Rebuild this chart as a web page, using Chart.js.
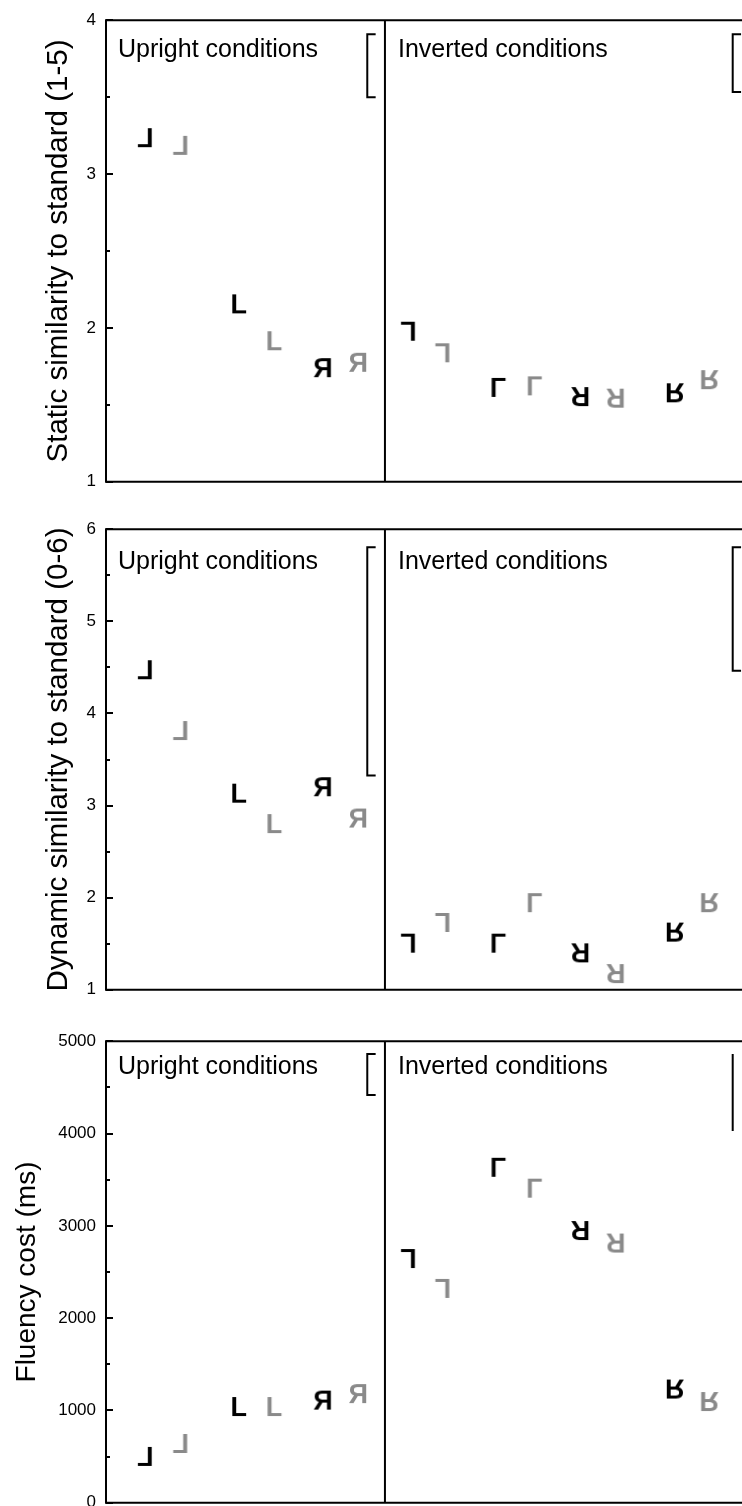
<!DOCTYPE html>
<html>
<head>
<meta charset="utf-8">
<script src="https://cdn.jsdelivr.net/npm/chart.js@4.4.0/dist/chart.umd.min.js"></script>
<style>
  html, body { margin: 0; padding: 0; background: #fff; overflow: hidden; width: 742px; height: 1506px; }
  canvas { position: absolute; left: 0; }
</style>
</head>
<body>
<canvas id="c1"></canvas>
<canvas id="c2"></canvas>
<canvas id="c3"></canvas>
<script>
/* ===== Letter-orientation similarity panels ===== */

// condition positions on the x axis (upright half 0-3, inverted half 3-6.84)
const xBlack = [0.42, 1.43, 2.33, 3.25, 4.22, 5.10, 6.12];
const xGray  = [0.80, 1.81, 2.71, 3.62, 4.61, 5.48, 6.49];

// which glyph marks each condition
const glyphLetter = ['L', 'L', 'R', 'L', 'L', 'R', 'R'];
const glyphMirror = [true, false, true, false, true, false, true];
const glyphTurn   = [0, 0, 0, 180, 180, 180, 180];

// panel values
const staticBlack  = [3.24, 2.16, 1.745, 1.975, 1.61, 1.55, 1.575];
const staticGray   = [3.19, 1.92, 1.78, 1.835, 1.62, 1.54, 1.66];
const dynamicBlack = [4.48, 3.14, 3.21, 1.50, 1.50, 1.395, 1.62];
const dynamicGray  = [3.82, 2.81, 2.87, 1.725, 1.94, 1.17, 1.94];
const fluencyBlack = [508, 1048, 1118, 2640, 3628, 2943, 1226];
const fluencyGray  = [648, 1048, 1188, 2316, 3402, 2808, 1091];

// error-bar brackets: [upright, inverted]
const errX      = [2.81, 6.74];
const errTop    = [[3.909, 3.909], [5.805, 5.805], [4860, 4860]];
const errBottom = [[3.50, 3.533], [3.327, 4.463], [4417, 4028]];
const errCaps   = [[true, true], [true, true], [true, false]];

const halfLabels = ['Upright conditions', 'Inverted conditions'];
const labelY = [3.76, 5.57, 4640];

const yTitles = ['Static similarity to standard (1-5)', 'Dynamic similarity to standard (0-6)', 'Fluency cost (ms)'];
const yMin  = [1, 1, 0];
const yMax  = [4, 6, 5000];
const yStep = [1, 1, 1000];

const FONT = '"Liberation Sans", Arial, sans-serif';
const GRAY = '#8a8a8a';

// page geometry of each panel's plot box
const plotTop    = [19, 528, 1040];
const plotBottom = [482, 990, 1503];
const titleX     = [67, 67, 35];

function glyph(letter, mirror, color) {
  const c = document.createElement('canvas');
  c.width = 30; c.height = 30;
  const g = c.getContext('2d');
  g.font = 'bold 27px ' + FONT;
  const m = g.measureText(letter);
  const w = m.actualBoundingBoxLeft + m.actualBoundingBoxRight;
  const h = m.actualBoundingBoxAscent + m.actualBoundingBoxDescent;
  g.fillStyle = color;
  if (mirror) { g.translate(30, 0); g.scale(-1, 1); }
  g.fillText(letter, (30 - w) / 2 + m.actualBoundingBoxLeft, (30 - h) / 2 + m.actualBoundingBoxAscent);
  return c;
}

const blackGlyphs = glyphLetter.map((l, i) => glyph(l, glyphMirror[i], '#000'));
const grayGlyphs  = glyphLetter.map((l, i) => glyph(l, glyphMirror[i], GRAY));

// frame, inward ticks, half labels and y title
const framePlugin = {
  id: 'frame',
  afterDraw(chart, args, opts) {
    const { ctx, chartArea: a, scales: { x, y } } = chart;
    ctx.save();
    ctx.strokeStyle = '#000';
    ctx.lineWidth = 2;
    ctx.beginPath();
    ctx.moveTo(a.right + 2, a.top); ctx.lineTo(a.left, a.top);
    ctx.lineTo(a.left, a.bottom); ctx.lineTo(a.right + 2, a.bottom);
    ctx.stroke();

    const step = opts.step;
    ctx.beginPath();
    for (let v = y.min; v <= y.max + 1e-9; v += step / 2) {
      const py = Math.round(y.getPixelForValue(v));
      const major = Math.abs((v - y.min) / step - Math.round((v - y.min) / step)) < 1e-6;
      ctx.moveTo(a.left, py);
      ctx.lineTo(a.left + (major ? 7 : 4), py);
    }
    ctx.stroke();

    ctx.fillStyle = '#000';
    ctx.font = '25px ' + FONT;
    ctx.textBaseline = 'alphabetic';
    ctx.textAlign = 'left';
    const ly = y.getPixelForValue(opts.labelY);
    ctx.fillText(halfLabels[0], x.getPixelForValue(0) + 12, ly);
    ctx.fillText(halfLabels[1], x.getPixelForValue(3) + 13, ly);

    ctx.font = opts.titleSize + 'px ' + FONT;
    ctx.textAlign = 'center';
    ctx.translate(opts.titleX, (a.top + a.bottom) / 2);
    ctx.rotate(-Math.PI / 2);
    ctx.fillText(opts.title, 0, 0);
    ctx.restore();
  }
};

function bracket(k, p) {
  const cap = 0.09;
  const x0 = errX[k];
  const pts = errCaps[p][k]
    ? [{ x: x0 + cap, y: errTop[p][k] }, { x: x0, y: errTop[p][k] }, { x: x0, y: errBottom[p][k] }, { x: x0 + cap, y: errBottom[p][k] }]
    : [{ x: x0, y: errTop[p][k] }, { x: x0, y: errBottom[p][k] }];
  return {
    type: 'line', data: pts, showLine: true, borderColor: '#000', borderWidth: 2,
    pointRadius: 0, fill: false, tension: 0, clip: false
  };
}

function makePanel(p, id, blackVals, grayVals) {
  const cv = document.getElementById(id);
  const h = (plotBottom[p] - plotTop[p]) + 19 + 20;
  cv.width = 742; cv.height = h;
  cv.style.top = (plotTop[p] - 19) + 'px';
  cv.style.width = '742px'; cv.style.height = h + 'px';

  new Chart(cv.getContext('2d'), {
    type: 'scatter',
    data: {
      datasets: [
        {
          type: 'line', data: [{ x: 3, y: yMin[p] }, { x: 3, y: yMax[p] }], showLine: true,
          borderColor: '#000', borderWidth: 2, pointRadius: 0, clip: false
        },
        bracket(0, p),
        bracket(1, p),
        {
          label: 'black', data: xBlack.map((x, i) => ({ x, y: blackVals[i] })),
          pointStyle: blackGlyphs, pointRotation: glyphTurn, pointRadius: 10, clip: false
        },
        {
          label: 'gray', data: xGray.map((x, i) => ({ x, y: grayVals[i] })),
          pointStyle: grayGlyphs, pointRotation: glyphTurn, pointRadius: 10, clip: false
        }
      ]
    },
    options: {
      responsive: false,
      devicePixelRatio: 1,
      animation: false,
      events: [],
      layout: { autoPadding: false, padding: { top: 19, bottom: 20, left: 0, right: 0 } },
      plugins: {
        legend: { display: false },
        tooltip: { enabled: false },
        frame: { step: yStep[p], labelY: labelY[p], title: yTitles[p], titleX: titleX[p], titleSize: p === 2 ? 28 : 29.5 }
      },
      scales: {
        x: { type: 'linear', min: 0, max: 6.84, display: false },
        y: {
          min: yMin[p], max: yMax[p],
          ticks: {
            stepSize: yStep[p], padding: 10, color: '#000', font: { size: 17, family: FONT },
            callback: v => String(v)
          },
          grid: { display: false, drawTicks: false },
          border: { display: false },
          afterFit(s) { s.width = 106; }
        }
      }
    },
    plugins: [framePlugin]
  });
}

makePanel(0, 'c1', staticBlack, staticGray);
makePanel(1, 'c2', dynamicBlack, dynamicGray);
makePanel(2, 'c3', fluencyBlack, fluencyGray);
</script>
</body>
</html>
